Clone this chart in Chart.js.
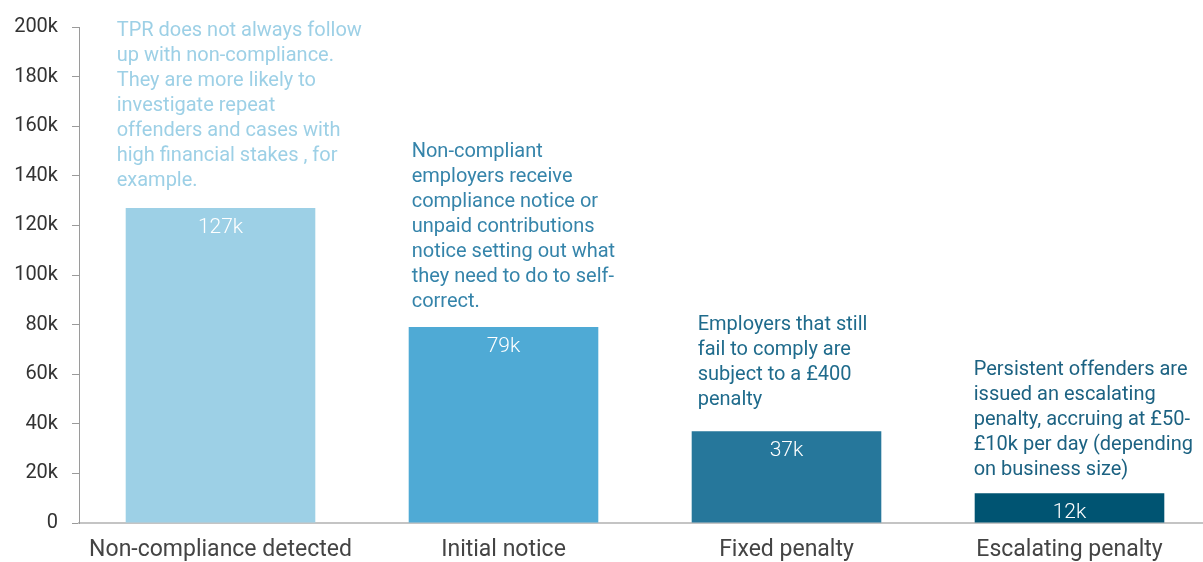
<!DOCTYPE html>
<html>
<head>
<meta charset="utf-8">
<script src="https://cdn.jsdelivr.net/npm/chart.js@4.4.1/dist/chart.umd.min.js"></script>
<style>
  html, body { margin: 0; padding: 0; background: #fff; overflow: hidden; }
  #wrap { width: 1203px; height: 562px; overflow: hidden; position: relative; }
  canvas { display: block; }
</style>
</head>
<body>
<div id="wrap"><canvas id="c" width="1211" height="562" style="width:1211px;height:562px"></canvas></div>
<script>
// Enforcement stages and counts (thousands)
const categories = ['Non-compliance detected', 'Initial notice', 'Fixed penalty', 'Escalating penalty'];
const counts = [127, 79, 37, 12];
const valueLabels = ['127k', '79k', '37k', '12k'];
const yTicks = [0, 20, 40, 60, 80, 100, 120, 140, 160, 180, 200];
const barColors = ['#9dd0e6', '#4faad5', '#26779b', '#005472'];
const noteColors = ['#9dd0e6', '#3584aa', '#1f6b8c', '#1c6282'];
const notes = [
  ['TPR does not always follow', 'up with non-compliance.', 'They are more likely to', 'investigate repeat', 'offenders and cases with', 'high financial stakes , for', 'example.'],
  ['Non-compliant', 'employers receive', 'compliance notice or', 'unpaid contributions', 'notice setting out what', 'they need to do to self-', 'correct.'],
  ['Employers that still', 'fail to comply are', 'subject to a £400', 'penalty'],
  ['Persistent offenders are', 'issued an escalating', 'penalty, accruing at £50-', '£10k per day (depending', 'on business size)']
];

const FONT = 'Roboto, "Noto Sans", sans-serif';
const noteOffsetX = [-9, 3, 6, -1];
const noteGap = [27, 25, 31, 23];

const annotate = {
  id: 'annotate',
  afterDatasetsDraw(chart) {
    const ctx = chart.ctx;
    const meta = chart.getDatasetMeta(0);
    ctx.save();
    meta.data.forEach((bar, i) => {
      const left = bar.x - bar.width / 2;
      // value label inside the bar
      ctx.fillStyle = '#ffffff';
      ctx.font = '300 21px ' + FONT;
      ctx.textAlign = 'center';
      ctx.textBaseline = 'middle';
      ctx.fillText(valueLabels[i], bar.x, bar.y + 20);
      // explanatory note above the bar
      const lines = notes[i];
      ctx.fillStyle = noteColors[i];
      ctx.font = '20px ' + FONT;
      ctx.textAlign = 'left';
      const lh = 25;
      const lastY = bar.y - noteGap[i];
      lines.forEach((t, k) => {
        ctx.fillText(t, left + noteOffsetX[i], lastY - (lines.length - 1 - k) * lh);
      });
    });
    ctx.restore();
  }
};

new Chart(document.getElementById('c'), {
  type: 'bar',
  data: {
    labels: categories,
    datasets: [{
      data: counts,
      backgroundColor: barColors,
      borderWidth: 0,
      categoryPercentage: 0.67,
      barPercentage: 1.0
    }]
  },
  options: {
    responsive: false,
    animation: false,
    layout: { padding: { top: 27, right: 0, left: 0, bottom: 0 } },
    plugins: { legend: { display: false }, tooltip: { enabled: false } },
    scales: {
      x: {
        grid: { display: false },
        border: { display: true, color: '#c4c4c4', width: 2 },
        ticks: { color: '#444', font: { family: FONT, size: 23, weight: 400 }, padding: 5, maxRotation: 0 },
        afterFit(s) { s.height = 39; }
      },
      y: {
        min: 0, max: 200,
        afterBuildTicks(s) { s.ticks = yTicks.map(v => ({ value: v })); },
        grid: { drawOnChartArea: false, drawTicks: true, tickLength: 7, color: '#9a9a9a' },
        border: { display: true, color: '#9a9a9a', width: 1 },
        ticks: {
          color: '#333', padding: 14,
          font: { family: FONT, size: 20, weight: 400 },
          callback: v => v === 0 ? '0' : v + 'k'
        },
        afterFit(s) { s.width = 79; }
      }
    }
  },
  plugins: [annotate]
});
</script>
</body>
</html>
